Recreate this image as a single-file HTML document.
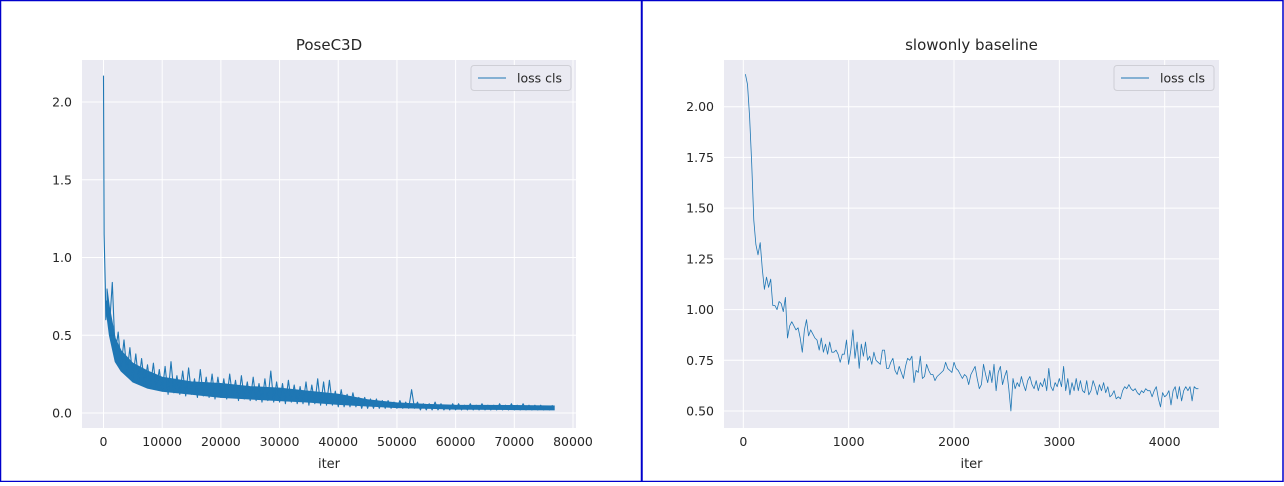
<!DOCTYPE html>
<html><head><meta charset="utf-8">
<style>
html,body{margin:0;padding:0;background:#fff;}
body{width:1284px;height:482px;overflow:hidden;position:relative;font-family:"DejaVu Sans","Liberation Sans",sans-serif;}
svg text{font-family:"DejaVu Sans","Liberation Sans",sans-serif;fill:#262626;}
</style></head>
<body>
<svg id="svg" width="1284" height="482">
  <rect x="0.5" y="0.5" width="641" height="481" fill="none" stroke="#0000cc" stroke-width="1.5"/>
  <rect x="642" y="0.5" width="641" height="481" fill="none" stroke="#0000cc" stroke-width="1.5"/>
  <g id="left"></g>
  <g id="right"></g>
</svg>
<script>
// ---------- Left chart data ----------
const leftXTicks = [0,10000,20000,30000,40000,50000,60000,70000,80000];
const leftXTickLabels = ["0","10000","20000","30000","40000","50000","60000","70000","80000"];
const leftYTicks = [0.0,0.5,1.0,1.5,2.0];
const leftYTickLabels = ["0.0","0.5","1.0","1.5","2.0"];
const leftHeadIters = [0,100,200,300,400];
const leftHeadLoss = [2.17,1.15,0.98,0.82,0.6];
const leftStep = 500;
const leftLoss = [
0.72,0.55,0.84,0.38,0.52,0.3,0.47,0.26,0.42,0.22,0.38,0.2,0.35,0.18,0.31,0.17,0.32,0.15,0.28,0.14,
0.3,0.12,0.33,0.13,0.24,0.12,0.27,0.11,0.29,0.12,0.22,0.1,0.28,0.11,0.23,0.1,0.25,0.09,0.23,0.1,
0.22,0.09,0.25,0.1,0.21,0.08,0.24,0.09,0.2,0.08,0.23,0.08,0.19,0.07,0.22,0.08,0.27,0.07,0.2,0.07,
0.19,0.06,0.21,0.07,0.18,0.06,0.17,0.06,0.2,0.05,0.18,0.06,0.22,0.05,0.2,0.05,0.21,0.05,0.14,0.04,
0.15,0.04,0.12,0.04,0.13,0.04,0.1,0.03,0.1,0.03,0.09,0.03,0.09,0.03,0.08,0.03,0.08,0.03,0.07,0.03,
0.08,0.03,0.07,0.03,0.15,0.03,0.07,0.02,0.06,0.02,0.06,0.02,0.07,0.02,0.06,0.02,0.05,0.02,0.06,0.02,
0.06,0.02,0.05,0.02,0.06,0.02,0.05,0.02,0.06,0.02,0.05,0.02,0.05,0.02,0.06,0.02,0.05,0.02,0.06,0.02,
0.05,0.02,0.06,0.02,0.05,0.02,0.05,0.02,0.05,0.02,0.04,0.02,0.05
];
// dense noise band (envelope of the raw loss)
const leftBandIters = [600,1000,2000,3000,5000,7500,10000,15000,20000,25000,30000,35000,40000,45000,50000,55000,60000,70000,76800];
const leftBandLower = [0.62,0.5,0.33,0.27,0.2,0.16,0.14,0.12,0.1,0.09,0.08,0.07,0.055,0.045,0.035,0.03,0.025,0.022,0.02];
const leftBandUpper = [0.8,0.68,0.48,0.4,0.32,0.27,0.23,0.2,0.19,0.17,0.16,0.14,0.12,0.085,0.065,0.055,0.05,0.048,0.045];

// ---------- Right chart data ----------
const rightXTicks = [0,1000,2000,3000,4000];
const rightXTickLabels = ["0","1000","2000","3000","4000"];
const rightYTicks = [0.5,0.75,1.0,1.25,1.5,1.75,2.0];
const rightYTickLabels = ["0.50","0.75","1.00","1.25","1.50","1.75","2.00"];
const rightIters = [20,40,60,80,100,120,140,160,180,200,220,240,260,280,300,320,340,360,380,400,
420,440,460,480,500,520,540,560,580,600,620,640,660,680,700,720,740,760,780,800,
820,840,860,880,900,920,940,960,980,1000,1020,1040,1060,1080,1100,1120,1140,1160,1180,1200,
1220,1240,1260,1280,1300,1320,1340,1360,1380,1400,1420,1440,1460,1480,1500,1520,1540,1560,1580,1600,
1620,1640,1660,1680,1700,1720,1740,1760,1780,1800,1820,1840,1860,1880,1900,1920,1940,1960,1980,2000,
2020,2040,2060,2080,2100,2120,2140,2160,2180,2200,2220,2240,2260,2280,2300,2320,2340,2360,2380,2400,
2420,2440,2460,2480,2500,2520,2540,2560,2580,2600,2620,2640,2660,2680,2700,2720,2740,2760,2780,2800,
2820,2840,2860,2880,2900,2920,2940,2960,2980,3000,3020,3040,3060,3080,3100,3120,3140,3160,3180,3200,
3220,3240,3260,3280,3300,3320,3340,3360,3380,3400,3420,3440,3460,3480,3500,3520,3540,3560,3580,3600,
3620,3640,3660,3680,3700,3720,3740,3760,3780,3800,3820,3840,3860,3880,3900,3920,3940,3960,3980,4000,
4020,4040,4060,4080,4100,4120,4140,4160,4180,4200,4220,4240,4260,4280,4300,4320];
const rightLoss = [2.16,2.11,1.95,1.72,1.44,1.32,1.27,1.33,1.2,1.1,1.16,1.11,1.15,1.02,1.02,1.0,1.04,1.03,0.99,1.06,
0.86,0.92,0.94,0.92,0.9,0.91,0.86,0.79,0.9,0.95,0.87,0.9,0.88,0.86,0.85,0.8,0.86,0.79,0.83,0.78,
0.84,0.79,0.79,0.8,0.78,0.74,0.78,0.78,0.85,0.73,0.8,0.9,0.76,0.84,0.71,0.83,0.77,0.84,0.75,0.77,
0.73,0.79,0.75,0.74,0.73,0.8,0.8,0.71,0.71,0.74,0.76,0.7,0.68,0.72,0.69,0.66,0.72,0.76,0.75,0.77,
0.64,0.7,0.69,0.77,0.66,0.67,0.73,0.7,0.68,0.68,0.65,0.67,0.68,0.69,0.7,0.74,0.71,0.7,0.69,0.74,
0.71,0.7,0.68,0.66,0.68,0.67,0.63,0.68,0.7,0.72,0.66,0.61,0.63,0.73,0.68,0.64,0.7,0.64,0.73,0.6,
0.69,0.72,0.63,0.67,0.7,0.61,0.5,0.66,0.61,0.64,0.62,0.67,0.63,0.6,0.65,0.67,0.63,0.61,0.65,0.6,
0.64,0.62,0.66,0.6,0.71,0.62,0.6,0.64,0.62,0.66,0.62,0.72,0.6,0.66,0.58,0.64,0.6,0.66,0.6,0.65,
0.6,0.59,0.65,0.58,0.6,0.65,0.62,0.58,0.63,0.6,0.64,0.59,0.62,0.57,0.58,0.6,0.56,0.57,0.56,0.6,
0.62,0.61,0.63,0.61,0.6,0.61,0.59,0.58,0.6,0.59,0.61,0.6,0.6,0.57,0.6,0.62,0.56,0.52,0.59,0.57,
0.58,0.6,0.53,0.6,0.62,0.56,0.62,0.55,0.6,0.62,0.6,0.62,0.55,0.62,0.61,0.61];

const NS = "http://www.w3.org/2000/svg";
function mk(parent, tag, attrs){
  const e = document.createElementNS(NS, tag);
  for (const k in attrs) e.setAttribute(k, attrs[k]);
  parent.appendChild(e); return e;
}
function drawChart(g, cfg){
  const sx = v => cfg.x0 + (v - cfg.xmin) * (cfg.x1 - cfg.x0) / (cfg.xmax - cfg.xmin);
  const sy = v => cfg.y0 + (v - cfg.ymin) * (cfg.y1 - cfg.y0) / (cfg.ymax - cfg.ymin);
  const bg = mk(g, "rect", {x:cfg.L, y:cfg.T, width:cfg.R-cfg.L, height:cfg.B-cfg.T, fill:"#eaeaf2"});
  
  
  cfg.xt.forEach((t,i)=>{
    const x = sx(t);
    const l = mk(g,"line",{x1:x,x2:x,y1:cfg.T,y2:cfg.B,stroke:"#fff","stroke-width":1});
    
    
    const tx = mk(g,"text",{x:x,y:cfg.B+18,"text-anchor":"middle","font-size":"12.5"});
    tx.textContent = cfg.xl[i];
    
    
  });
  cfg.yt.forEach((t,i)=>{
    const y = sy(t);
    const l = mk(g,"line",{x1:cfg.L,x2:cfg.R,y1:y,y2:y,stroke:"#fff","stroke-width":1});
    
    
    const tx = mk(g,"text",{x:cfg.L-10,y:y+4.5,"text-anchor":"end","font-size":"12.5"});
    tx.textContent = cfg.yl[i];
    
    
  });
  if (cfg.band) {
    const up = cfg.band.x.map((v,i)=>sx(v).toFixed(1)+","+sy(cfg.band.hi[i]).toFixed(1));
    const lo = cfg.band.x.map((v,i)=>sx(v).toFixed(1)+","+sy(cfg.band.lo[i]).toFixed(1)).reverse();
    const pg = mk(g,"polygon",{points:up.concat(lo).join(" "),fill:"#1f77b4",stroke:"#1f77b4","stroke-width":1});
    
    
  }
  const pts = cfg.xs.map((v,i)=>sx(v).toFixed(1)+","+sy(cfg.ys[i]).toFixed(1)).join(" ");
  const pl = mk(g,"polyline",{points:pts,fill:"none",stroke:"#1f77b4","stroke-width":cfg.lw,"stroke-linejoin":"round"});
  
  
  const title = mk(g,"text",{x:(cfg.L+cfg.R)/2,y:cfg.T-10,"text-anchor":"middle","font-size":"15"});
  title.textContent = cfg.title;
  
  
  const xl = mk(g,"text",{x:(cfg.L+cfg.R)/2,y:cfg.B+40,"text-anchor":"middle","font-size":"13"});
  xl.textContent = "iter";
  
  
  const lg = mk(g,"g",{});
  
  
  mk(lg,"rect",{x:cfg.R-105,y:cfg.T+5.5,width:100,height:25,rx:3,fill:"#eaeaf2",stroke:"#cfcfd6","stroke-width":1});
  mk(lg,"line",{x1:cfg.R-98,x2:cfg.R-70,y1:cfg.T+18,y2:cfg.T+18,stroke:"#1f77b4","stroke-width":1});
  const lt = mk(lg,"text",{x:cfg.R-59,y:cfg.T+22.5,"font-size":"12.5"});
  lt.textContent = "loss cls";
  
  
}
drawChart(document.getElementById("left"), {
  L:82,R:576,T:60,B:428, xmin:0,xmax:80000,x0:103.5,x1:573, ymin:0,ymax:2,y0:413,y1:102,
  xt:leftXTicks, xl:leftXTickLabels, yt:leftYTicks, yl:leftYTickLabels,
  xs:leftHeadIters.concat(leftLoss.map((v,i)=>(i+1)*leftStep)),
  ys:leftHeadLoss.concat(leftLoss), lw:1.1, title:"PoseC3D",
  band:{x:leftBandIters, lo:leftBandLower, hi:leftBandUpper}
});
drawChart(document.getElementById("right"), {
  L:724,R:1219,T:60,B:428, xmin:0,xmax:4000,x0:743.3,x1:1164.7, ymin:0.5,ymax:2,y0:411,y1:106.7,
  xt:rightXTicks, xl:rightXTickLabels, yt:rightYTicks, yl:rightYTickLabels,
  xs:rightIters, ys:rightLoss, lw:0.8, title:"slowonly baseline"
});
</script>
</body></html>
